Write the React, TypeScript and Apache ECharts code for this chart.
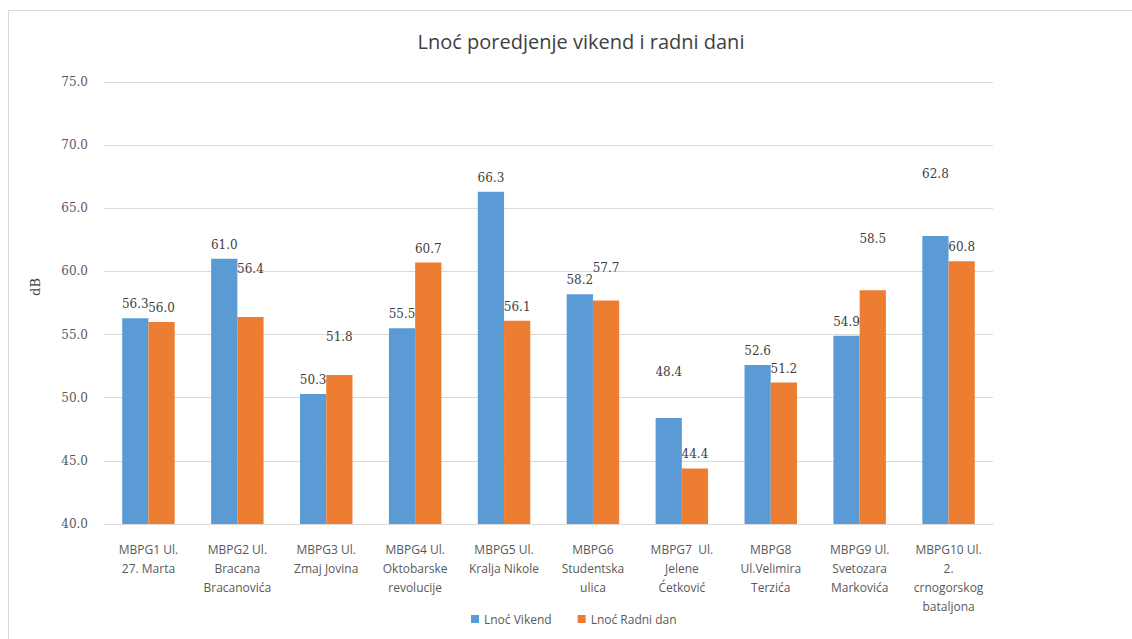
import React, { useEffect, useRef } from "react";
import * as echarts from "echarts";

const titleText = "Lnoć poredjenje vikend i radni dani";
const categories = [
  "MBPG1 Ul.\n27. Marta",
  "MBPG2 Ul.\nBracana\nBracanovića",
  "MBPG3 Ul.\nZmaj Jovina",
  "MBPG4 Ul.\nOktobarske\nrevolucije",
  "MBPG5 Ul.\nKralja Nikole",
  "MBPG6\nStudentska\nulica",
  "MBPG7  Ul.\nJelene\nĆetković",
  "MBPG8\nUl.Velimira\nTerzića",
  "MBPG9 Ul.\nSvetozara\nMarkovića",
  "MBPG10 Ul.\n2.\ncrnogorskog\nbataljona",
];
const vikendName = "Lnoć Vikend";
const radniName = "Lnoć Radni dan";
const vikend = [56.3, 61.0, 50.3, 55.5, 66.3, 58.2, 48.4, 52.6, 54.9, 62.8];
const radni = [56.0, 56.4, 51.8, 60.7, 56.1, 57.7, 44.4, 51.2, 58.5, 60.8];
const yTicks = { min: 40, max: 75, interval: 5 };

// extra upward shift of individual data labels (as placed in the original)
const vikendLabelLift = [0, 0, 0, 0, 0, 0, 32, 0, 0, 48];
const radniLabelLift = [0, 34, 24, 0, 0, 18, 0, 0, 37, 0];

const BLUE = "#5B9BD5";
const ORANGE = "#ED7D31";
const TEXT = "#595959";
const GRID = "#D9D9D9";
const SANS = "'Open Sans', 'Noto Sans', sans-serif";
const SERIF = "'DejaVu Serif', 'Liberation Serif', serif";

export default function App() {
  const ref = useRef<HTMLDivElement>(null);
  useEffect(() => {
    if (!ref.current) return;
    const chart = echarts.init(ref.current, null, { renderer: "svg" });
    const mk = (vals: number[], lift: number[]) =>
      vals.map((v, i) => ({
        value: v,
        label: { offset: [0, -lift[i]] },
      }));
    const labelStyle = {
      show: true,
      position: "top",
      distance: 8,
      fontFamily: SERIF,
      fontSize: 12,
      color: "#404040",
      formatter: (p: any) => Number(p.value).toFixed(1),
    };
    chart.setOption({
      animation: false,
      backgroundColor: "#ffffff",
      title: {
        text: titleText,
        left: 576,
        textAlign: "center",
        top: 26,
        textStyle: {
          fontFamily: SANS,
          fontSize: 20,
          fontWeight: "normal",
          color: "#404040",
        },
      },
      graphic: [
        {
          type: "rect",
          shape: { x: 8.5, y: 10.5, width: 1136, height: 660 },
          style: { fill: "none", stroke: "#D9D9D9", lineWidth: 1 },
          silent: true,
          z: -1,
        },
      ],
      legend: {
        bottom: 9,
        left: 466,
        itemWidth: 8,
        itemHeight: 8,
        itemGap: 26,
        icon: "rect",
        textStyle: { fontFamily: SANS, fontSize: 12, color: TEXT },
        data: [vikendName, radniName],
      },
      grid: { left: 104, right: 139, top: 82, bottom: 115 },
      xAxis: {
        type: "category",
        data: categories,
        axisTick: { show: false },
        axisLine: { show: true, lineStyle: { color: GRID } },
        axisLabel: {
          interval: 0,
          margin: 16,
          fontFamily: SANS,
          fontSize: 12,
          lineHeight: 19,
          color: TEXT,
        },
      },
      yAxis: {
        type: "value",
        min: yTicks.min,
        max: yTicks.max,
        interval: yTicks.interval,
        name: "dB",
        nameLocation: "middle",
        nameGap: 62,
        nameRotate: 90,
        nameTextStyle: { fontFamily: SERIF, fontSize: 13, color: "#404040", padding: [0, 0, 0, 32] },
        axisLine: { show: false },
        axisTick: { show: false },
        splitLine: { lineStyle: { color: GRID } },
        axisLabel: {
          margin: 16,
          fontFamily: SERIF,
          fontSize: 12,
          color: TEXT,
          formatter: (v: number) => v.toFixed(1),
        },
      },
      series: [
        {
          name: vikendName,
          type: "bar",
          data: mk(vikend, vikendLabelLift),
          itemStyle: { color: BLUE },
          barGap: "0%",
          barCategoryGap: "41%",
          label: labelStyle,
        },
        {
          name: radniName,
          type: "bar",
          data: mk(radni, radniLabelLift),
          itemStyle: { color: ORANGE },
          barGap: "0%",
          barCategoryGap: "41%",
          label: labelStyle,
        },
      ],
    });
    return () => chart.dispose();
  }, []);
  return (
    <div
      ref={ref}
      style={{ position: "absolute", left: 0, top: 0, width: 1132, height: 639 }}
    />
  );
}
